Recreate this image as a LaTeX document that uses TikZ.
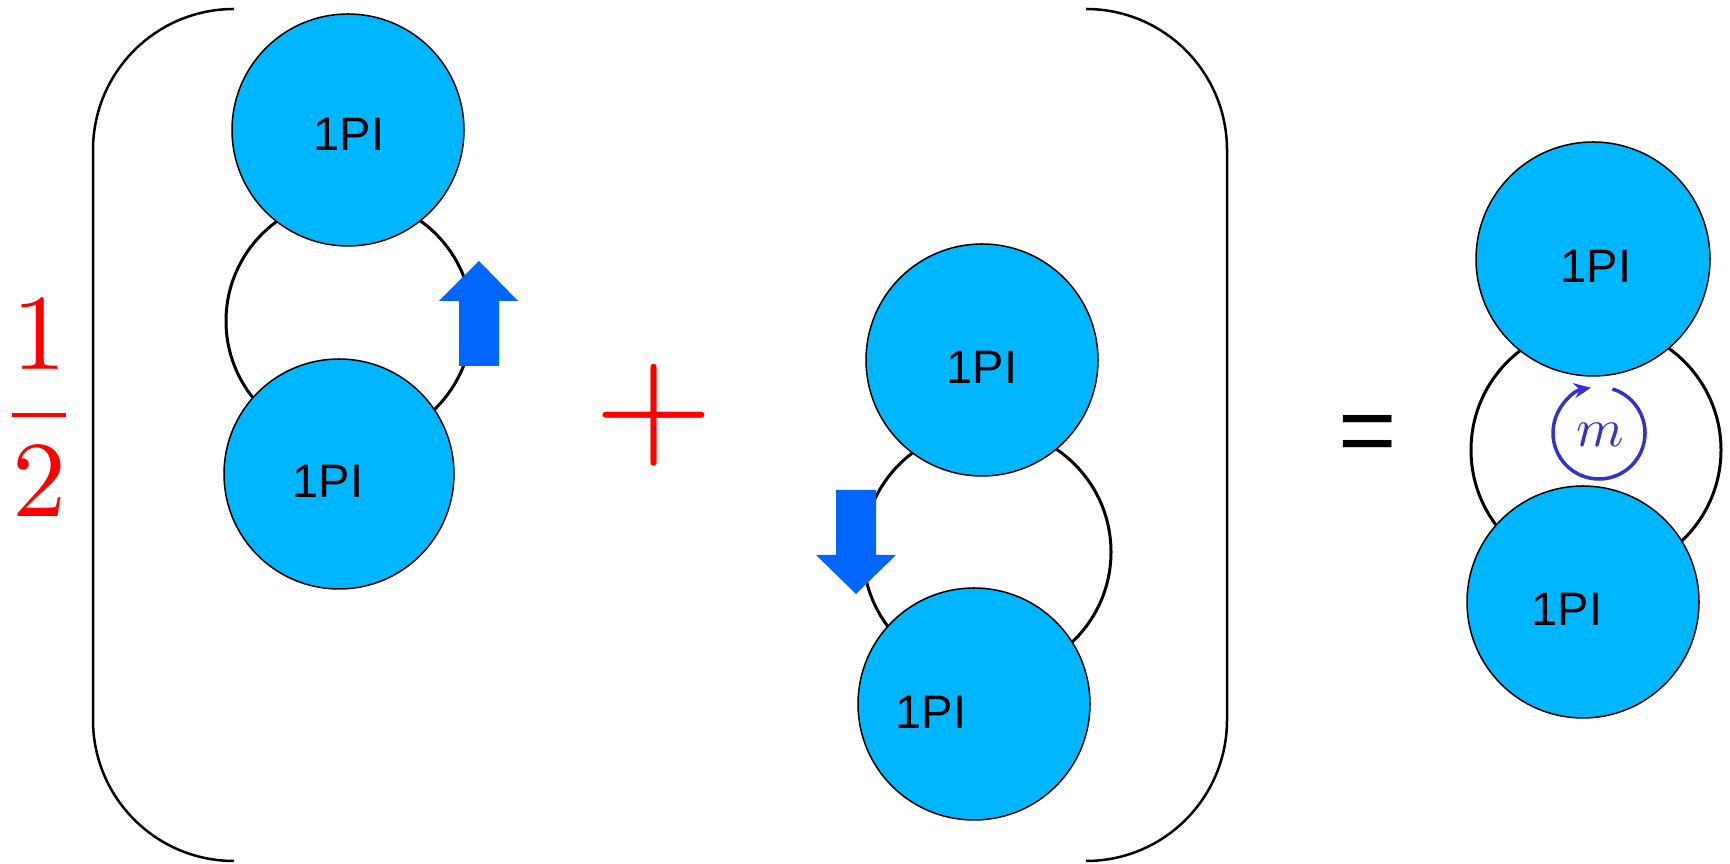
\documentclass[tikz,border=0pt]{standalone}
\usepackage{fontspec}
\newfontfamily\arialf{Liberation Sans}
\usetikzlibrary{calc,arrows.meta}
\definecolor{blobfill}{RGB}{0,182,255}
\definecolor{arrowblue}{RGB}{0,102,255}
\definecolor{mblue}{RGB}{51,51,204}
\tikzset{
  blob/.style={circle, draw=black, line width=1.5pt, fill=blobfill, inner sep=0pt, minimum size=#1},
  loopline/.style={circle, draw=black, line width=3pt, inner sep=0pt, minimum size=#1},
  pilabel/.style={font=\arialf\fontsize{47}{56}\selectfont, inner sep=0pt},
  bigarrow/.style={fill=arrowblue, draw=none},
  paren/.style={line width=2.5pt, draw=black},
}
\begin{document}
\begin{tikzpicture}[x=1pt,y=1pt]
\useasboundingbox (0,0) rectangle (1730,864);
% parentheses
\draw[paren] (234,855) arc[start angle=90,end angle=180,radius=141pt] -- (93,144) arc[start angle=180,end angle=270,radius=141pt];
\draw[paren] (1086,855) arc[start angle=90,end angle=0,radius=141pt] -- (1227,144) arc[start angle=0,end angle=-90,radius=141pt];
% fraction
\node[text=red, inner sep=0pt, scale=10.8] (half) at (39,456) {$\displaystyle\frac{1}{2}$};
% left group
\node[loopline=246pt] (loopL) at (349,543) {};
\node[blob=232pt] (tl) at (348,734) {};
\node[blob=230pt] (bl) at (339,390) {};
\node[pilabel] (tlt) at (349,730) {1PI};
\node[pilabel] (blt) at (328,383) {1PI};
\fill[bigarrow] (479,603) -- (518,563) -- (499,563) -- (499,498) -- (459,498) -- (459,563) -- (439,563) -- cycle;
% plus
\node[text=red, inner sep=0pt, scale=15.3] (plus) at (654,449) {$+$};
% middle group
\node[loopline=248pt] (loopM) at (987,312) {};
\node[blob=232pt] (mt) at (982,504) {};
\node[blob=232pt] (mb) at (974,160) {};
\node[pilabel] (mtt) at (982,497) {1PI};
\node[pilabel] (mbt) at (931,152) {1PI};
\fill[bigarrow] (856,270) -- (896,309) -- (876,309) -- (876,374) -- (836,374) -- (836,309) -- (816,309) -- cycle;
% equals
\node[inner sep=0pt, font=\arialf\fontsize{100}{110}\selectfont] (eq) at (1368,424) {=};
% right group
\node[loopline=250pt] (loopR) at (1596,414) {};
\node[blob=234pt] (rt) at (1593,605) {};
\node[blob=232pt] (rb) at (1583,262) {};
\node[pilabel] (rtt) at (1596,598) {1PI};
\node[pilabel] (rbt) at (1567,255) {1PI};
\coordinate (mc) at (1599,431);
\draw[mblue, line width=3.5pt, -{Stealth[length=17pt,width=15pt]}] ($(mc)+(73:46pt)$) arc[start angle=73,end angle=-260,radius=46pt];
\node[text=mblue, inner sep=0pt, scale=5.4] (m) at (1600,429) {$m$};
\end{tikzpicture}
\end{document}
